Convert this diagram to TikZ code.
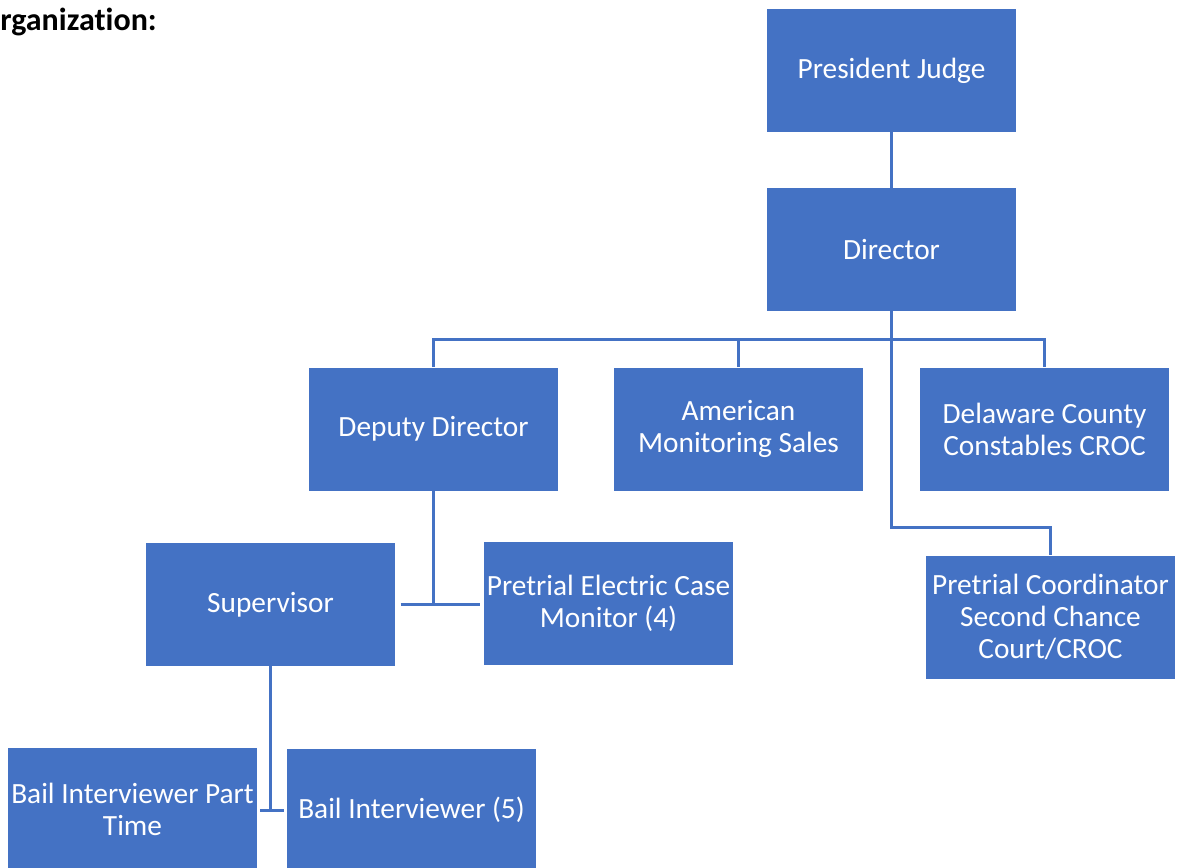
\documentclass[tikz,border=0pt]{standalone}
\usepackage{fontspec}
\setmainfont{Carlito}
\definecolor{boxblue}{HTML}{4472C4}
\begin{document}
\begin{tikzpicture}[x=0.75pt,y=-0.75pt,
  orgbox/.style={fill=boxblue, text=white, minimum width=186.75pt, minimum height=92.25pt,
    inner sep=0pt, align=center, font=\fontsize{22}{24}\selectfont},
  link/.style={draw=boxblue, line width=2.25pt}]
\clip (0,0) rectangle (1177,867);
\useasboundingbox (0,0) rectangle (1177,867);
\node[anchor=base west, font=\bfseries\fontsize{24}{28}\selectfont, inner sep=0pt] (title) at (0,31) {rganizat\kern0pt ion:};
\node[orgbox] (pj) at (891.5,70.5) {President Judge};
\node[orgbox] (dir) at (891.5,249.5) {Director};
\node[orgbox] (dep) at (433.5,429) {Deputy Director};
\node[orgbox] (ams) at (738.5,429) {American\\Monitoring Sales};
\node[orgbox] (dcc) at (1044.5,429) {Delaware County\\Constables CROC};
\node[orgbox] (sup) at (270.5,604.5) {Supervisor};
\node[orgbox] (pec) at (608.5,603) {Pretrial Electric Case\\Monitor (4)};
\node[orgbox] (pc) at (1050.5,617) {Pretrial Coordinator\\Second Chance\\Court/CROC};
\node[orgbox] (bipt) at (132.5,809) {Bail Interviewer Part\\Time};
\node[orgbox] (bi) at (411.5,810) {Bail Interviewer (5)};
\coordinate (bus) at (891.5,339);
\coordinate (pcbend) at (891.5,527);
\coordinate (depjoin) at (433.5,604);
\coordinate (supjoin) at (270.5,810);
% links
\draw[link] (pj.south) -- (dir.north);
\draw[link] (dir.south) -- (pcbend) -| (pc.north);
\draw[link] (dep.north) |- (bus) -| (dcc.north);
\draw[link] (ams.north) -- (ams.north |- bus);
\draw[link] (dep.south) -- (depjoin);
\draw[link, shorten <=4pt] (sup.east |- depjoin) -- (depjoin);
\draw[link, shorten >=3pt] (depjoin) -- (pec.west |- depjoin);
\draw[link] (sup.south) -- (supjoin);
\draw[link, shorten <=2pt, shorten >=2pt] (bipt.east |- supjoin) -- (bi.west |- supjoin);
\end{tikzpicture}
\end{document}
